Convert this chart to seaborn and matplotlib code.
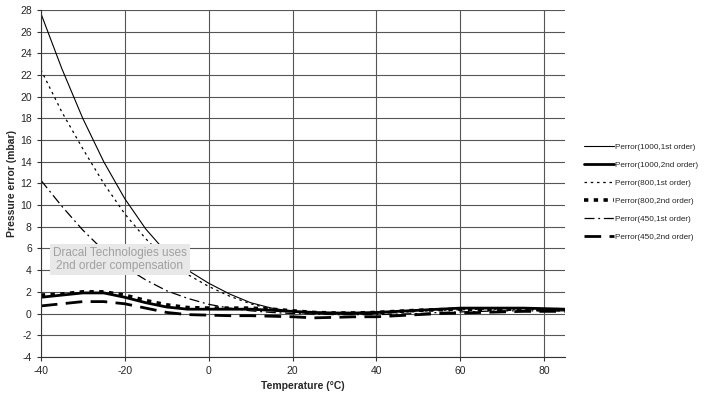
import pandas as pd
import numpy as np
import matplotlib.pyplot as plt
import seaborn as sns

# temperatures (deg C) and pressure error (mbar)
temp = [-40, -35, -30, -25, -20, -15, -10, -5, 0, 5, 10, 15, 20, 25, 30, 35, 40, 45, 50, 55, 60, 65, 70, 75, 80, 85]

p1000_1st = [27.7, 22.6, 18.0, 14.0, 10.6, 7.8, 5.6, 4.0, 2.8, 1.8, 1.0, 0.5, 0.2, 0.05, 0.0, 0.0, 0.05, 0.2, 0.3, 0.4, 0.5, 0.55, 0.5, 0.5, 0.45, 0.35]
p1000_2nd = [1.5, 1.7, 1.9, 1.9, 1.5, 1.0, 0.6, 0.4, 0.4, 0.4, 0.4, 0.3, 0.2, 0.1, 0.05, 0.05, 0.1, 0.2, 0.3, 0.4, 0.5, 0.5, 0.5, 0.5, 0.45, 0.4]
p800_1st = [22.5, 18.6, 15.2, 12.0, 9.2, 6.9, 5.0, 3.6, 2.5, 1.6, 0.9, 0.4, 0.15, 0.0, -0.05, -0.05, 0.0, 0.1, 0.2, 0.3, 0.35, 0.4, 0.4, 0.4, 0.35, 0.3]
p800_2nd = [1.7, 1.8, 2.0, 2.0, 1.7, 1.2, 0.8, 0.55, 0.5, 0.5, 0.5, 0.4, 0.25, 0.1, 0.05, 0.05, 0.1, 0.2, 0.3, 0.35, 0.4, 0.4, 0.4, 0.4, 0.35, 0.35]
p450_1st = [12.3, 9.9, 7.7, 5.8, 4.3, 3.1, 2.1, 1.4, 0.85, 0.5, 0.25, 0.1, 0.0, -0.05, -0.1, -0.1, -0.1, -0.05, 0.0, 0.1, 0.15, 0.2, 0.25, 0.25, 0.25, 0.25]
p450_2nd = [0.7, 0.9, 1.1, 1.1, 0.9, 0.5, 0.1, -0.1, -0.15, -0.2, -0.2, -0.25, -0.3, -0.4, -0.35, -0.3, -0.3, -0.2, -0.1, 0.0, 0.05, 0.1, 0.15, 0.2, 0.2, 0.2]

labels = ["Perror(1000,1st order)", "Perror(1000,2nd order)", "Perror(800,1st order)",
          "Perror(800,2nd order)", "Perror(450,1st order)", "Perror(450,2nd order)"]
series = [p1000_1st, p1000_2nd, p800_1st, p800_2nd, p450_1st, p450_2nd]

sns.set_style("white")
plt.rcParams["font.family"] = ["Liberation Sans", "DejaVu Sans"]
plt.rcParams["axes.unicode_minus"] = False

fig = plt.figure(figsize=(7.04, 4.01), dpi=100)
ax = fig.add_axes([0.058, 0.11, 0.745, 0.865])

styles = [
    dict(linewidth=0.8, linestyle="-"),
    dict(linewidth=2.0, linestyle="-"),
    dict(linewidth=0.9, linestyle=(0, (2, 3))),
    dict(linewidth=2.6, linestyle=(0, (1.2, 1.5))),
    dict(linewidth=0.9, linestyle=(0, (8, 3, 1.5, 3))),
    dict(linewidth=2.0, linestyle=(0, (6, 3))),
]

for lab, vals, st in zip(labels, series, styles):
    df = pd.DataFrame({"temp": temp, "err": vals})
    sns.lineplot(data=df, x="temp", y="err", ax=ax, color="black", label=lab, **st)

ax.set_xlim(-40, 85)
ax.set_ylim(-4, 28)
ax.set_xticks(np.arange(-40, 81, 20))
ax.set_yticks(np.arange(-4, 29, 2))
ax.grid(True, color="#555555", linewidth=0.8)
ax.set_axisbelow(True)
for s in ax.spines.values():
    s.set_visible(False)
ax.spines["left"].set_visible(True)
ax.spines["left"].set_color("#333333")
ax.spines["bottom"].set_visible(True)
ax.spines["bottom"].set_color("#333333")
ax.tick_params(labelsize=7.5, length=3, color="#333333", direction="out")
ax.tick_params(axis="both", which="both", left=True, bottom=True)

ax.set_xlabel("Temperature (°C)", fontsize=7.5, fontweight="bold", labelpad=4)
ax.set_ylabel("Pressure error (mbar)", fontsize=7.5, fontweight="bold", labelpad=2)

ax.text(-21.2, 4.95, "Dracal Technologies uses\n2nd order compensation", fontsize=8.5,
        color="#a0a0a0", ha="center", va="center", linespacing=1.1,
        bbox=dict(facecolor="#e8e8e8", edgecolor="none", boxstyle="square,pad=0.25"), zorder=5)

leg = ax.legend(loc="center left", bbox_to_anchor=(1.036, 0.475), frameon=False,
                fontsize=5.9, handlelength=3.6, handletextpad=0.1, labelspacing=1.25,
                borderaxespad=0, borderpad=0)

fig.savefig("out.png", dpi=100)
